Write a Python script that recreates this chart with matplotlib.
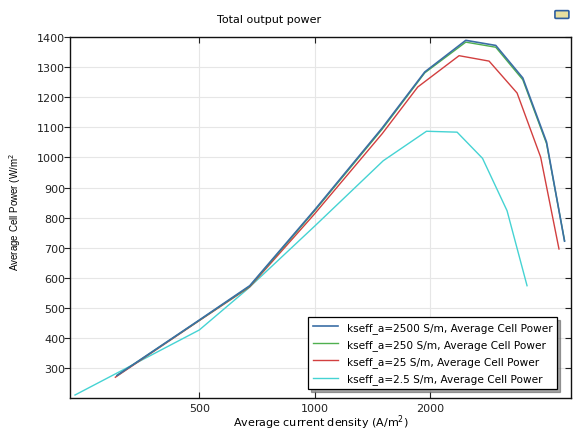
import matplotlib
matplotlib.use("Agg")
import matplotlib.pyplot as plt
import matplotlib.lines as mlines
from matplotlib.patches import FancyBboxPatch
from matplotlib.ticker import FixedLocator, NullLocator, FixedFormatter

# current density (A/m^2) and power (W/m^2)
i_2500 = [305, 500, 677, 1000, 1500, 1937, 2478, 2967, 3490, 4025, 4484]
p_2500 = [276, 460, 574, 826, 1098, 1284, 1389, 1372, 1264, 1051, 722]

i_250 = [305, 500, 677, 1000, 1500, 1937, 2478, 2967, 3490, 4025, 4484]
p_250 = [276, 459, 572, 823, 1094, 1281, 1383, 1366, 1258, 1046, 724]

i_25 = [302, 500, 677, 1000, 1500, 1857, 2380, 2850, 3372, 3885, 4337]
p_25 = [270, 458, 570, 813, 1079, 1234, 1338, 1320, 1214, 1001, 696]

i_2p5 = [237, 500, 668, 1000, 1509, 1957, 2352, 2740, 3175, 3580]
p_2p5 = [211, 427, 563, 772, 989, 1087, 1084, 997, 823, 574]

labels = ["kseff_a=2500 S/m, Average Cell Power",
          "kseff_a=250 S/m, Average Cell Power",
          "kseff_a=25 S/m, Average Cell Power",
          "kseff_a=2.5 S/m, Average Cell Power"]
colors = ["#3b6ea5", "#4fb04f", "#d23f3f", "#45d3d3"]

xticks = [500, 1000, 2000]
yticks = [300, 400, 500, 600, 700, 800, 900, 1000, 1100, 1200, 1300, 1400]

fig = plt.figure(figsize=(5.82, 4.31), dpi=100)
ax = fig.add_axes([0.1203, 0.0742, 0.8607, 0.8376])

ax.plot(i_2500, p_2500, color=colors[0], lw=1.2, label=labels[0], zorder=4)
ax.plot(i_250, p_250, color=colors[1], lw=1.0, label=labels[1], zorder=3)
ax.plot(i_25, p_25, color=colors[2], lw=1.0, label=labels[2], zorder=2)
ax.plot(i_2p5, p_2p5, color=colors[3], lw=1.0, label=labels[3], zorder=1)

ax.set_xscale("log")
ax.set_xlim(230, 4660)
ax.set_ylim(201, 1400)
ax.xaxis.set_major_locator(FixedLocator(xticks))
ax.xaxis.set_major_formatter(FixedFormatter([str(t) for t in xticks]))
ax.xaxis.set_minor_locator(NullLocator())
ax.set_yticks(yticks)

ax.grid(True, color="#e6e6e6", lw=0.8)
ax.set_axisbelow(True)
ax.tick_params(direction="in", top=True, right=True, labelsize=8,
               length=4, width=0.8, colors="#222222")
# left ticks point outward, like the original
for t in ax.yaxis.get_major_ticks():
    t.tick1line.set_marker(mlines.TICKLEFT)
for s in ax.spines.values():
    s.set_linewidth(1.0)
    s.set_color("#111111")

fig.text(0.462, 0.953, "Total output power", fontsize=8, ha="center", va="center")
ax.set_xlabel("Average current density (A/m$^2$)", fontsize=8, labelpad=0)
ax.set_ylabel("Average Cell Power (W/m$^2$", fontsize=7,
              family=["Liberation Sans Narrow", "Liberation Sans", "DejaVu Sans"])
ax.yaxis.set_label_coords(-0.093, 0.519)

leg = ax.legend(loc="lower right", bbox_to_anchor=(0.972, 0.025), fontsize=7.6,
                frameon=True, fancybox=False, shadow=True, edgecolor="black",
                handlelength=2.4, borderpad=0.45, labelspacing=0.6,
                borderaxespad=0)
leg.get_frame().set_linewidth(0.9)

# small toolbar icon in the top right corner
icon = FancyBboxPatch((0.9555, 0.957), 0.02, 0.014, boxstyle="round,pad=0.002",
                      transform=fig.transFigure, facecolor="#e8e0a0",
                      edgecolor="#2f5f9f", lw=1.2)
fig.patches.append(icon)

fig.savefig("out.png", dpi=100)
